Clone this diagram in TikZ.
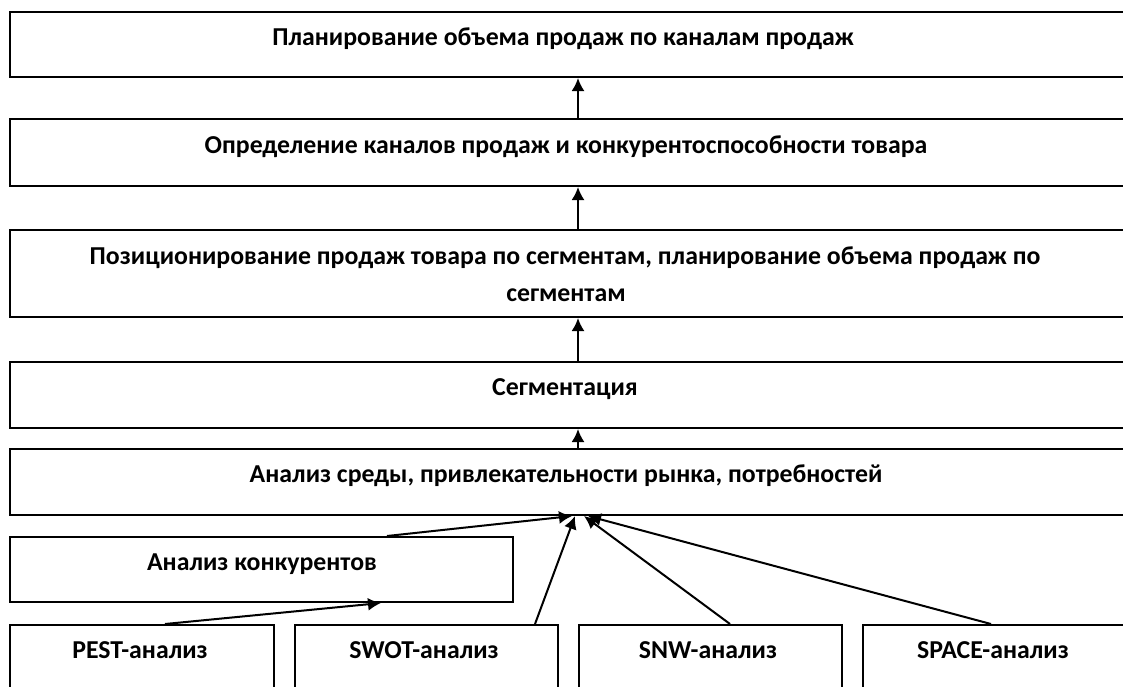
\documentclass[tikz,border=0pt]{standalone}
\usepackage{fontspec}
\setmainfont{Carlito}
\usetikzlibrary{arrows.meta}
\begin{document}
\begin{tikzpicture}[x=1pt,y=-1pt,
  box/.style={draw=black,line width=2pt,rectangle,anchor=north west,inner sep=0pt},
  lbl/.style={anchor=base,inner sep=0pt,font=\bfseries\fontsize{25.8}{30}\selectfont},
  arr/.style={line width=2pt,-{Latex[length=13pt,width=13pt]}}]
\useasboundingbox (0,0) rectangle (1123,686);
\clip (0,0) rectangle (1123,686);
\node[box,minimum width=1117pt,minimum height=65pt] (b1) at (9,11) {};
\node[lbl] (l1) at (563,45) {Планирование объема продаж по каналам продаж};
\node[box,minimum width=1117pt,minimum height=67pt] (b2) at (9,118) {};
\node[lbl] (l2) at (566,153) {Определение каналов продаж и конкурентоспособности товара};
\node[box,minimum width=1117pt,minimum height=87pt] (b3) at (9,229) {};
\node[lbl] (l3a) at (565,264) {Позиционирование продаж товара по сегментам, планирование объема продаж по};
\node[lbl] (l3b) at (566,301) {сегментам};
\node[box,minimum width=1117pt,minimum height=66pt] (b4) at (9,361) {};
\node[lbl] (l4) at (565,395) {Сегментация};
\node[box,minimum width=1117pt,minimum height=66pt] (b5) at (9,448) {};
\node[lbl] (l5) at (566,482) {Анализ среды, привлекательности рынка, потребностей};
\node[box,minimum width=503pt,minimum height=65pt] (k) at (9,536) {};
\node[lbl] (lk) at (262,570) {Анализ конкурентов};
\node[box,minimum width=264pt,minimum height=90pt] (p1) at (9,624) {};
\node[lbl] (lp1) at (140,658) {PEST-анализ};
\node[box,minimum width=263pt,minimum height=90pt] (p2) at (294,624) {};
\node[lbl] (lp2) at (424,658) {SWOT-анализ};
\node[box,minimum width=263pt,minimum height=90pt] (p3) at (578,624) {};
\node[lbl] (lp3) at (708,658) {SNW-анализ};
\node[box,minimum width=264pt,minimum height=90pt] (p4) at (862,624) {};
\node[lbl] (lp4) at (993,658) {SPACE-анализ};
\coordinate (ax) at (578,0);
\draw[arr] (b2.north -| ax) -- (b1.south -| ax);
\draw[arr] (b3.north -| ax) -- (b2.south -| ax);
\draw[arr] (b4.north -| ax) -- (b3.south -| ax);
\draw[arr] (b5.north -| ax) -- (b4.south -| ax);
\coordinate (kt) at (387,0);
\coordinate (pt1) at (165,0);
\coordinate (kb) at (381,0);
\coordinate (pt2) at (535,0);
\coordinate (pt3) at (730,0);
\coordinate (pt4) at (991,0);
\coordinate (t1) at (572,0);
\coordinate (t2) at (575,0);
\coordinate (t3) at (584,0);
\coordinate (t4) at (588,0);
\draw[arr] (k.north -| kt) -- (b5.south -| t1);
\draw[arr] (p1.north -| pt1) -- (k.south -| kb);
\draw[arr] (p2.north -| pt2) -- (b5.south -| t2);
\draw[arr] (p3.north -| pt3) -- (b5.south -| t3);
\draw[arr] (p4.north -| pt4) -- (b5.south -| t4);
\end{tikzpicture}
\end{document}
